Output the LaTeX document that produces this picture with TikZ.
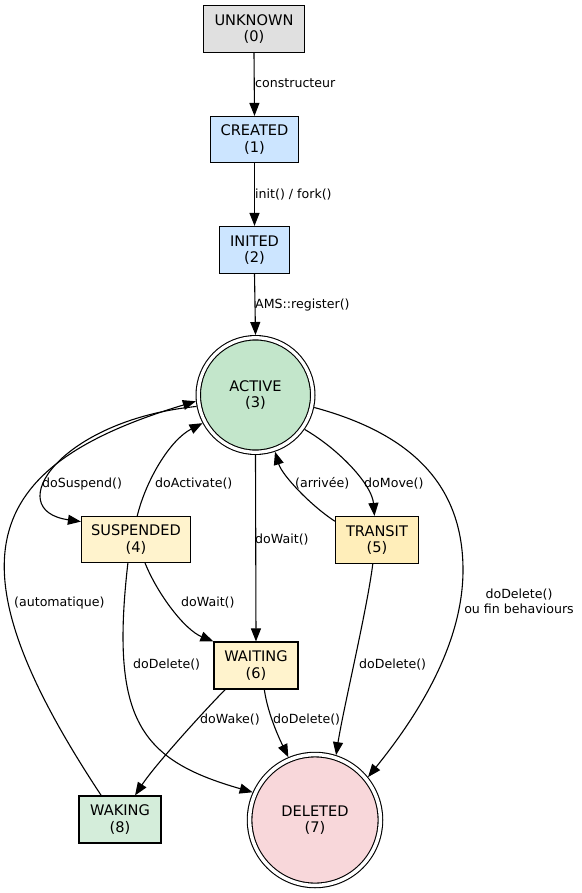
\documentclass[tikz,border=0pt]{standalone}
\usepackage{fontspec}
\setmainfont{DejaVu Sans}
\usetikzlibrary{arrows.meta}
\definecolor{cUnknown}{HTML}{E0E0E0}
\definecolor{cBlue}{HTML}{CCE5FF}
\definecolor{cActive}{HTML}{C3E6CB}
\definecolor{cSusp}{HTML}{FFF3CD}
\definecolor{cTransit}{HTML}{FFEEBA}
\definecolor{cWaking}{HTML}{D4EDDA}
\definecolor{cDeleted}{HTML}{F8D7DA}
\begin{document}
\begin{tikzpicture}[x=1pt,y=-1pt,
  box/.style={draw=black, line width=1.15pt, rectangle, inner sep=0pt, align=center,
    font=\fontsize{14.6}{16.5}\selectfont},
  dcirc/.style={circle, draw=black, line width=1.1pt, double=white, inner sep=0pt,
    align=center, font=\fontsize{14.6}{16.5}\selectfont},
  conn/.style={draw=black, line width=1.1pt, -{Triangle[length=13pt,width=10pt]}},
  lbl/.style={font=\fontsize{12.6}{15}\selectfont, inner sep=0pt, anchor=base west},
  lblc/.style={font=\fontsize{12.6}{15}\selectfont, inner sep=0pt, align=center},
]
\useasboundingbox (0,0) rectangle (581,893);

% nodes
\node[box, fill=cUnknown, minimum width=101, minimum height=47] (unknown) at (254,29) {UNKNOWN\\(0)};
\node[box, fill=cBlue, minimum width=88, minimum height=46] (created) at (254.5,139.5) {CREATED\\(1)};
\node[box, fill=cBlue, minimum width=70, minimum height=47] (inited) at (254.5,250) {INITED\\(2)};
\node[dcirc, fill=cActive, minimum size=114.5, double distance=3.3pt, outer sep=2.75pt] (active) at (255.5,395) {ACTIVE\\(3)};
\node[box, fill=cSusp, minimum width=109, minimum height=46] (suspended) at (136,539.5) {SUSPENDED\\(4)};
\node[box, fill=cTransit, minimum width=83, minimum height=47] (transit) at (377,540) {TRANSIT\\(5)};
\node[box, fill=cSusp, minimum width=84, minimum height=47] (waiting) at (256,665.5) {WAITING\\(6)};
\node[box, fill=cWaking, minimum width=82, minimum height=47] (waking) at (120,819.5) {WAKING\\(8)};
\node[dcirc, fill=cDeleted, minimum size=130.8, double distance=3.5pt, outer sep=2.85pt] (deleted) at (315,820) {DELETED\\(7)};

% connectors
\draw[conn] (unknown.south) -- (created.north);
\draw[conn] (created.south) -- (inited.north);
\draw[conn] (inited.south) -- (active.north);
\draw[conn] (active.191) .. controls (60,420) and (0,510) .. (suspended.162);
\draw[conn] (waking.128) .. controls (-52,563.6) and (-23,467) .. (active.186);
\draw[conn] (suspended.87) .. controls (146,480) and (170,440) .. (active.208);
\draw[conn] (active.south) -- (waiting.north);
\draw[conn] (active.-35) .. controls (340,450) and (372,485) .. (transit.96);
\draw[conn] (transit.156) .. controls (310,505) and (282,475) .. (active.-71);
\draw[conn] (active.-12) .. controls (405,432) and (463,480) .. (463,570)
   .. controls (463,650) and (410,725) .. (deleted.39);
\draw[conn] (suspended.-69) .. controls (158,595) and (185,630) .. (waiting.north west);
\draw[conn] (suspended.-109) .. controls (110,720) and (140,760) .. (deleted.156);
\draw[conn] (transit.-100) .. controls (367,610) and (343,710) .. (deleted.72);
\draw[conn] (waiting.-142) .. controls (205,710) and (155,765) .. (waking.58);
\draw[conn] (waiting.-71) .. controls (268,715) and (280,740) .. (deleted.113);

% labels
\node[lbl] (l01) at (255,87.5) {constructeur};
\node[lbl] (l12) at (255,198.5) {init() / fork()};
\node[lbl] (l23) at (255,308.5) {AMS::register()};
\node[lbl] (l34) at (42,487.5) {doSuspend()};
\node[lbl] (l43) at (155,487.5) {doActivate()};
\node[lbl] (l53) at (295,487.5) {(arrivée)};
\node[lbl] (l35) at (364,487.5) {doMove()};
\node[lbl] (l36) at (255,543.5) {doWait()};
\node[lbl] (l83) at (14,606.5) {(automatique)};
\node[lbl] (l46) at (181,606.5) {doWait()};
\node[lblc] (l37) at (519,601.5) {doDelete()\\ou fin behaviours};
\node[lbl] (l47) at (133,668.5) {doDelete()};
\node[lbl] (l57) at (359,668.5) {doDelete()};
\node[lbl] (l68) at (200,723.5) {doWake()};
\node[lbl] (l67) at (273,723.5) {doDelete()};
\end{tikzpicture}
\end{document}
